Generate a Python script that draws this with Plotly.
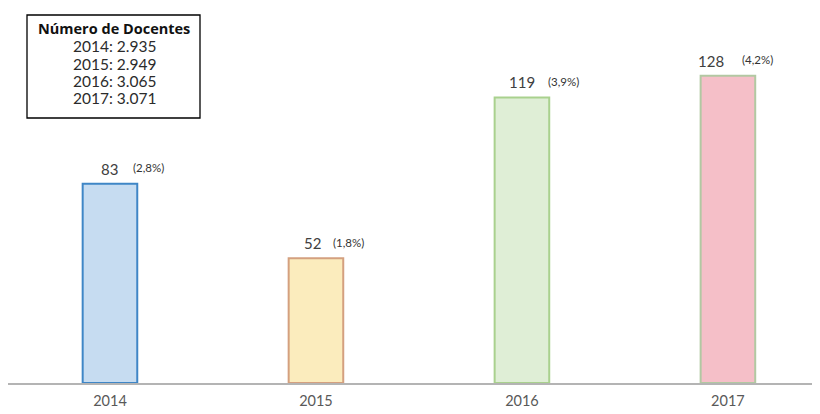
import plotly.graph_objects as go

years = ["2014", "2015", "2016", "2017"]
values = [83, 52, 119, 128]
pct_labels = ["(2,8%)", "(1,8%)", "(3,9%)", "(4,2%)"]
docentes = ["2.935", "2.949", "3.065", "3.071"]

fill_colors = ["#c6dcf1", "#fbecbd", "#dfeed6", "#f5bfc8"]
borders = ["#3f86c6", "#d4a07f", "#a9d18e", "#b2c8a2"]
num_shift = [0, -3, 0, -17]
pct_shift = [21, 15, 24, 12]

fig = go.Figure()
fig.add_trace(go.Bar(
    x=list(range(len(years))), y=values, width=0.265,
    marker=dict(color=fill_colors, line=dict(color=borders, width=2)),
    hoverinfo="skip",
))

font = "Lato, 'Open Sans', sans-serif"
for i, (v, p) in enumerate(zip(values, pct_labels)):
    fig.add_annotation(x=i, y=v, text=str(v), showarrow=False, yanchor="middle", xanchor="center",
                       yshift=15, xshift=num_shift[i], font=dict(family=font, size=15, color="#404040"))
    fig.add_annotation(x=i, y=v, text=p, showarrow=False, yanchor="middle", xanchor="left",
                       yshift=16, xshift=pct_shift[i], font=dict(family=font, size=11.5, color="#333333"))

# Box (paper coords; plot area is 812 x 375 px, offset 8 px in page)
W, H = 812.0, 375.0
def px(x):
    return (x - 8) / W
def py(y):
    return (383 - y) / H

fig.add_shape(type="rect", xref="paper", yref="paper",
              x0=px(27), x1=px(200), y0=py(118), y1=py(15),
              line=dict(color="#000000", width=1.3), fillcolor="white", layer="above")
fig.add_annotation(xref="paper", yref="paper", x=px(114), y=py(28), text="<b>Número de Docentes</b>",
                   showarrow=False, xanchor="center", yanchor="middle",
                   font=dict(family="'Open Sans', Lato, sans-serif", size=14.5, color="#111111"))
line_y = [46, 63.5, 81, 98.5]
for yr, d, ly in zip(years, docentes, line_y):
    fig.add_annotation(xref="paper", yref="paper", x=px(114), y=py(ly), text=f"{yr}: {d}",
                       showarrow=False, xanchor="center", yanchor="middle",
                       font=dict(family=font, size=15.5, color="#2b2b2b"))

fig.update_layout(
    width=812, height=406,
    margin=dict(l=0, r=0, t=0, b=31),
    plot_bgcolor="white", paper_bgcolor="white",
    showlegend=False,
    xaxis=dict(type="linear", range=[-0.495, 3.447], showgrid=False, zeroline=False,
               showline=True, linecolor="#b4b4b4", linewidth=1.5, ticks="",
               tickmode="array", tickvals=list(range(len(years))), ticktext=years,
               ticklabelstandoff=4,
               tickfont=dict(family=font, size=14.5, color="#595959")),
    yaxis=dict(range=[0, 156.25], visible=False),
)

fig.write_html("out.html")
